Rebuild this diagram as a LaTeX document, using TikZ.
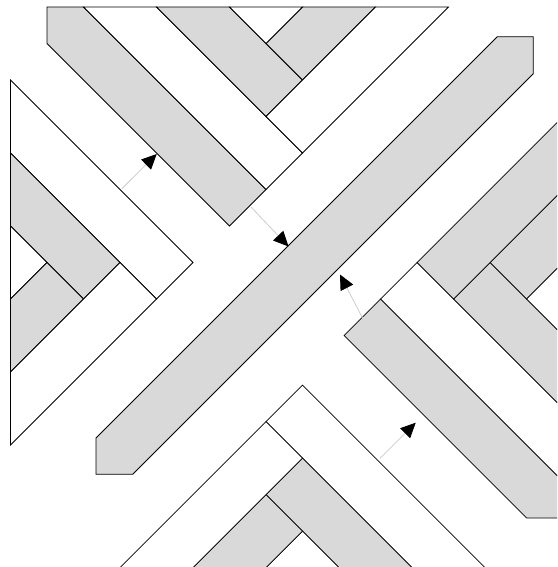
\documentclass[tikz,border=0pt]{standalone}
\usetikzlibrary{arrows.meta}
\begin{document}
\begin{tikzpicture}[x=1pt,y=-1pt,
  gp/.style={fill=black!15, draw=black, line width=0.8pt, line join=miter},
  wp/.style={fill=white, draw=black, line width=0.8pt, line join=miter},
  refl/.style={draw=black!20, line width=0.8pt, -{Triangle[length=15pt,width=14pt,color=black]}}]
\useasboundingbox (0,0) rectangle (557,567);
\clip (0,0) rectangle (557,567);

% top group and left group
\begin{scope}[shift={(47pt,-7pt)}, x=36.5pt, y=-36.5pt]
  \draw[gp] (0,0) -- (1,0) -- (6,5) -- (5,6) -- (0,1) -- cycle;
  \draw[wp] (1,0) -- (3,0) -- (7,4) -- (6,5) -- cycle;
  \draw[gp] (3,0) -- (5,0) -- (7,2) -- (6,3) -- cycle;
  \draw[gp] (7,0) -- (9,0) -- (7,2) -- (6,1) -- cycle;
  \draw[wp] (5,0) -- (7,0) -- (6,1) -- cycle;
  \draw[wp] (9,0) -- (11,0) -- (7,4) -- (6,3) -- cycle;
  % left group
  \draw[wp] (-1,2) -- (4,7) -- (3,8) -- (-1,4) -- cycle;
  \draw[gp] (-1,4) -- (2,7) -- (1,8) -- (-1,6) -- cycle;
  \draw[wp] (-1,6) -- (0,7) -- (-1,8) -- cycle;
  \draw[gp] (-1,8) -- (0,7) -- (1,8) -- (-1,10) -- cycle;
  \draw[wp] (-1,10) -- (2,7) -- (3,8) -- (-1,12) -- cycle;
\end{scope}

% right group
\begin{scope}[shift={(52.1pt,-7pt)}, x=36.5pt, y=-36.5pt]
  \draw[gp] (14,14) -- (14,13) -- (9,8) -- (8,9) -- (13,14) -- cycle;
  \draw[wp] (14,13) -- (14,11) -- (10,7) -- (9,8) -- cycle;
  \draw[gp] (14,11) -- (14,9) -- (12,7) -- (11,8) -- cycle;
  \draw[gp] (14,7) -- (14,5) -- (12,7) -- (13,8) -- cycle;
  \draw[wp] (14,9) -- (14,7) -- (13,8) -- cycle;
  \draw[gp] (14,5) -- (14,3) -- (10,7) -- (11,8) -- cycle;
\end{scope}

% bottom group
\begin{scope}[shift={(47pt,-20.1pt)}, x=36.5pt, y=-36.5pt]
  \draw[wp] (12,15) -- (7,10) -- (6,11) -- (10,15) -- cycle;
  \draw[gp] (10,15) -- (7,12) -- (6,13) -- (8,15) -- cycle;
  \draw[wp] (8,15) -- (7,14) -- (6,15) -- cycle;
  \draw[gp] (6,15) -- (7,14) -- (6,13) -- (4,15) -- cycle;
  \draw[wp] (4,15) -- (7,12) -- (6,11) -- (2,15) -- cycle;
\end{scope}

% central strip
\draw[gp] (497.3,36.7) -- (533.3,36.7) -- (533.3,73.7) -- (132.7,474.3)
  -- (96,474.3) -- (96,438) -- cycle;

% arrows
\coordinate (a1s) at (121.7,188.8); \coordinate (a1e) at (156.7,154);
\coordinate (a2s) at (251,207);     \coordinate (a2e) at (288.5,246.5);
\coordinate (a3s) at (362.5,318);   \coordinate (a3e) at (340,274.5);
\coordinate (a4s) at (380,458.3);   \coordinate (a4e) at (415.7,422.7);
\draw[refl] (a1s) -- (a1e);
\draw[refl] (a2s) -- (a2e);
\draw[refl] (a3s) -- (a3e);
\draw[refl] (a4s) -- (a4e);
\end{tikzpicture}
\end{document}
